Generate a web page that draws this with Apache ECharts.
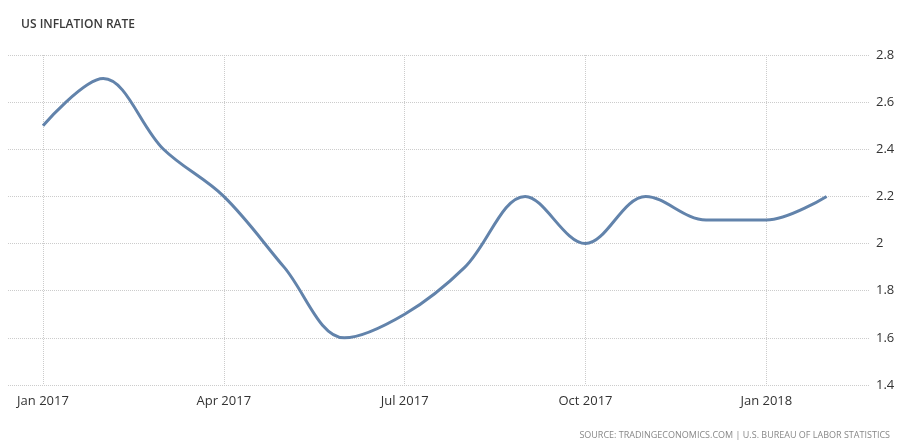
<!DOCTYPE html>
<html>
<head>
<meta charset="utf-8">
<script src="https://cdn.jsdelivr.net/npm/echarts@6/dist/echarts.min.js"></script>
<style>html,body{margin:0;padding:0;background:#fff;}#c{width:909px;height:446px;}</style>
</head>
<body>
<div id="c"></div>
<script>
const months = ["Jan 2017","Feb 2017","Mar 2017","Apr 2017","May 2017","Jun 2017","Jul 2017","Aug 2017","Sep 2017","Oct 2017","Nov 2017","Dec 2017","Jan 2018","Feb 2018"];
const inflation = [2.5, 2.7, 2.4, 2.2, 1.9, 1.6, 1.7, 1.9, 2.2, 2.0, 2.2, 2.1, 2.1, 2.2];
const xTickIdx = [0, 3, 6, 9, 12];
const yTicks = [1.4, 1.6, 1.8, 2.0, 2.2, 2.4, 2.6, 2.8];

const chart = echarts.init(document.getElementById('c'));
const font = '"Open Sans", "DejaVu Sans", sans-serif';
chart.setOption({
  animation: false,
  backgroundColor: '#fff',
  title: [
    { text: 'US INFLATION RATE', left: 16, top: 14, textStyle: { fontFamily: font, fontSize: 12, fontWeight: 600, color: '#3a3a3a' } },
    { text: 'SOURCE: TRADINGECONOMICS.COM | U.S. BUREAU OF LABOR STATISTICS', right: 14, top: 426, textStyle: { fontFamily: font, fontSize: 9, fontWeight: 'normal', color: '#888' } }
  ],
  grid: { left: 8, right: 39, top: 55, bottom: 61 },
  xAxis: {
    type: 'value',
    min: -0.58,
    max: 13.72,
    axisLine: { show: false },
    axisTick: { show: false, customValues: xTickIdx },
    axisLabel: {
      customValues: xTickIdx,
      formatter: v => months[Math.round(v)] || '',
      color: '#333', fontFamily: font, fontSize: 13, margin: 10
    },
    splitLine: { show: true, customValues: xTickIdx, lineStyle: { color: '#ccc', type: 'dotted', width: 1 } }
  },
  yAxis: {
    type: 'value',
    position: 'right',
    min: 1.4,
    max: 2.8,
    interval: 0.2,
    axisLine: { show: false },
    axisTick: { show: false },
    axisLabel: { formatter: v => String(+v.toFixed(1)), color: '#333', fontFamily: font, fontSize: 13, margin: 6 },
    splitLine: { show: true, lineStyle: { color: '#ccc', type: 'dotted', width: 1 } }
  },
  series: [{
    type: 'line',
    data: inflation.map((v, i) => [i, v]),
    smooth: 0.35,
    showSymbol: false,
    lineStyle: { color: '#6283ab', width: 3 },
    itemStyle: { color: '#6283ab' }
  }]
});
</script>
</body>
</html>
